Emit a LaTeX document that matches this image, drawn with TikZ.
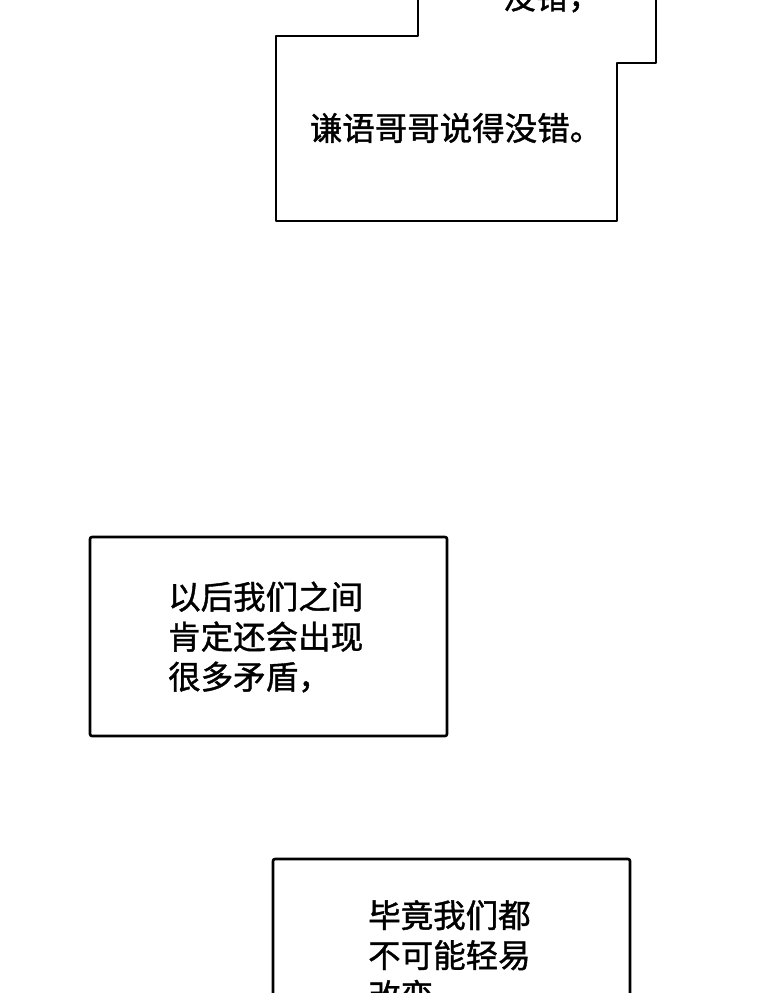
\documentclass[tikz,border=0pt]{standalone}
\usepackage{fontspec}
\newfontfamily\cjk[FakeBold=1.2]{Noto Sans CJK SC}
\begin{document}
\begin{tikzpicture}[x=1pt,y=-1pt,
  box/.style={line width=2.6pt, line join=round, fill=white},
  words/.style={font=\cjk\fontsize{32.5}{40}\selectfont, align=left, inner sep=0pt}]

  % Page
  \useasboundingbox (0,0) rectangle (760,993);
  \clip (0,0) rectangle (760,993);

  % Upper stepped box
  \draw[box] (418,-5) -- (418,36) -- (276,36) -- (276,221) -- (617,221)
    -- (617,63) -- (656,63) -- (656,-5);
  \node[words, anchor=center] (top) at (552,-3) {没错，};
  \node[words, anchor=center] (reply) at (456,128) {谦语哥哥说得没错。};

  % Middle box
  \draw[box, rounded corners=2pt] (90,537) rectangle (447,736);
  \node[words, anchor=west] (mid) at (168,637) {以后我们之间\\肯定还会出现\\很多矛盾，};

  % Lower box
  \draw[box, rounded corners=2pt] (273,859) rectangle (630,1010);
  \node[words, anchor=north west] (low) at (368,900) {毕竟我们都\\不可能轻易\\改变};
\end{tikzpicture}
\end{document}
